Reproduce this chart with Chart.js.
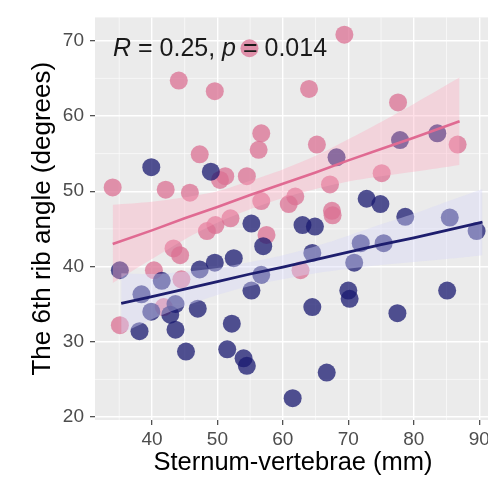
<!DOCTYPE html>
<html>
<head>
<meta charset="utf-8">
<script src="https://cdn.jsdelivr.net/npm/chart.js@4.4.1/dist/chart.umd.min.js"></script>
<style>
  html, body { margin: 0; padding: 0; background: #fff; overflow: hidden; }
  #wrap { width: 500px; height: 479px; }
</style>
</head>
<body>
<div id="wrap"><canvas id="myChart" width="500" height="479"></canvas></div>
<script>
// tick labels
const xTicks = [40, 50, 60, 70, 80, 90];
const yTicks = [20, 30, 40, 50, 60, 70];
const xMinor = [35, 45, 55, 65, 75, 85];
const yMinor = [25, 35, 45, 55, 65];

// group 1 (pink)
const pinkX = [34.0, 35.1, 44.1, 49.6, 54.9, 69.4, 64.0, 77.6, 47.3, 56.7, 56.3, 65.2, 42.1, 45.8, 50.4, 51.2, 54.5, 67.2,
               56.7, 60.9, 61.9, 67.5, 86.7, 75.1, 52.0, 57.5, 67.6, 62.7, 43.3, 44.3, 40.3, 44.5, 41.8, 48.4, 49.7];
const pinkY = [50.5, 32.2, 64.7, 63.3, 69.0, 70.8, 63.6, 61.8, 54.9, 57.7, 55.5, 56.2, 50.2, 49.8, 51.5, 52.0, 52.0, 50.9,
               48.7, 48.3, 49.3, 47.4, 56.2, 52.4, 46.4, 44.2, 46.8, 39.5, 42.4, 41.5, 39.5, 38.3, 34.6, 44.7, 45.5];

// group 2 (navy)
const blueX = [39.9, 49.0, 68.2, 77.9, 83.6, 72.8, 74.9, 78.7, 85.5, 89.6, 71.9, 75.4, 70.9, 70.0, 70.2, 85.1, 77.5,
               55.2, 63.0, 64.9, 57.0, 52.5, 64.5, 56.7, 55.2, 64.5, 52.2, 51.5, 54.0, 54.5, 66.7, 61.5,
               35.1, 41.5, 47.3, 49.6, 38.4, 39.9, 43.6, 42.8, 47.0, 38.1, 43.6, 45.2];
const blueY = [53.2, 52.6, 54.5, 56.8, 57.7, 49.0, 48.3, 46.6, 46.5, 44.7, 43.1, 43.1, 40.5, 36.8, 35.7, 36.8, 33.8,
               45.7, 45.5, 45.3, 42.7, 41.1, 41.8, 38.9, 36.8, 34.6, 32.4, 29.0, 27.8, 26.8, 25.9, 22.5,
               39.5, 38.1, 39.6, 40.5, 36.3, 34.0, 35.0, 33.6, 34.4, 31.4, 31.6, 28.7];

// fitted lines and confidence bands
const pinkFitX = [34, 40, 45, 50, 55, 60, 65, 70, 75, 80, 87];
const pinkFitY = [43.0, 44.8, 46.4, 47.9, 49.5, 51.0, 52.5, 54.1, 55.6, 57.1, 59.3];
const pinkHi   = [48.2, 48.6, 49.2, 50.0, 51.4, 52.9, 54.7, 56.9, 59.2, 61.6, 65.1];
const pinkLo   = [37.8, 41.0, 43.6, 45.8, 47.6, 49.1, 50.3, 51.3, 52.0, 52.6, 53.5];

const blueFitX = [35.3, 40, 45, 50, 55, 60, 65, 70, 75, 80, 85, 90.5];
const blueFitY = [35.1, 36.0, 37.0, 38.0, 39.0, 39.9, 40.9, 41.9, 42.9, 43.8, 44.8, 45.9];
const blueHi   = [39.1, 39.0, 39.3, 39.8, 40.6, 41.5, 42.7, 44.1, 45.6, 47.0, 48.6, 50.3];
const blueLo   = [31.1, 33.0, 34.7, 36.2, 37.4, 38.3, 39.1, 39.7, 40.2, 40.6, 41.0, 41.5];

const toPts = (xs, ys) => xs.map((x, i) => ({x: x, y: ys[i]}));

const FONT = "'Liberation Sans', Arial, Helvetica, sans-serif";

// grey panel + minor grid, like ggplot's theme_gray
const panelBg = {
    id: 'panelBg',
    beforeDraw(chart) {
        const {ctx, chartArea: a, scales} = chart;
        ctx.save();
        ctx.fillStyle = '#EBEBEB';
        ctx.fillRect(a.left, a.top, a.right - a.left, a.bottom - a.top);
        ctx.strokeStyle = 'rgba(255,255,255,0.85)';
        ctx.lineWidth = 0.7;
        ctx.beginPath();
        xMinor.forEach(v => {
            const px = scales.x.getPixelForValue(v);
            ctx.moveTo(px, a.top); ctx.lineTo(px, a.bottom);
        });
        yMinor.forEach(v => {
            const py = scales.y.getPixelForValue(v);
            ctx.moveTo(a.left, py); ctx.lineTo(a.right, py);
        });
        ctx.stroke();
        ctx.restore();
    }
};

// "R = 0.25, p = 0.014" label
const corLabel = {
    id: 'corLabel',
    afterDatasetsDraw(chart) {
        const ctx = chart.ctx;
        const parts = [['R', true], [' = 0.25, ', false], ['p', true], [' = 0.014', false]];
        let x = 113;
        const y = 56;
        ctx.save();
        ctx.fillStyle = '#1a1a1a';
        ctx.textBaseline = 'alphabetic';
        parts.forEach(([t, it]) => {
            ctx.font = (it ? 'italic ' : '') + '25px ' + FONT;
            ctx.fillText(t, x, y);
            x += ctx.measureText(t).width;
        });
        ctx.restore();
    }
};

const ctx = document.getElementById('myChart').getContext('2d');
const myChart = new Chart(ctx, {
    type: 'scatter',
    data: {
        datasets: [{
            label: 'pink',
            data: toPts(pinkX, pinkY),
            backgroundColor: 'rgba(219,112,147,0.75)',
            borderWidth: 0,
            pointRadius: 9,
            order: 4
        }, {
            label: 'navy',
            data: toPts(blueX, blueY),
            backgroundColor: 'rgba(25,25,112,0.75)',
            borderWidth: 0,
            pointRadius: 9,
            order: 3
        }, {
            label: 'pinkHi',
            data: toPts(pinkFitX, pinkHi),
            showLine: true,
            pointRadius: 0,
            borderWidth: 0,
            backgroundColor: 'rgba(255,165,190,0.35)',
            fill: '+1',
            tension: 0.3,
            order: 2
        }, {
            label: 'pinkLo',
            data: toPts(pinkFitX, pinkLo),
            showLine: true,
            pointRadius: 0,
            borderWidth: 0,
            fill: false,
            tension: 0.3,
            order: 2
        }, {
            label: 'blueHi',
            data: toPts(blueFitX, blueHi),
            showLine: true,
            pointRadius: 0,
            borderWidth: 0,
            backgroundColor: 'rgba(215,215,248,0.4)',
            fill: '+1',
            tension: 0.3,
            order: 2
        }, {
            label: 'blueLo',
            data: toPts(blueFitX, blueLo),
            showLine: true,
            pointRadius: 0,
            borderWidth: 0,
            fill: false,
            tension: 0.3,
            order: 2
        }, {
            label: 'pinkFit',
            data: toPts(pinkFitX, pinkFitY),
            showLine: true,
            pointRadius: 0,
            borderColor: '#E06A92',
            borderWidth: 2.6,
            order: 1
        }, {
            label: 'blueFit',
            data: toPts(blueFitX, blueFitY),
            showLine: true,
            pointRadius: 0,
            borderColor: '#1E1E6E',
            borderWidth: 2.8,
            order: 1
        }]
    },
    options: {
        responsive: false,
        animation: false,
        devicePixelRatio: 1,
        layout: { padding: { top: 10, left: 0, right: 0, bottom: 0 } },
        plugins: {
            legend: { display: false },
            tooltip: { enabled: false }
        },
        scales: {
            x: {
                type: 'linear',
                min: 31.3,
                max: 91.8,
                afterBuildTicks: s => { s.ticks = xTicks.map(v => ({value: v})); },
                afterFit: s => { s.height = 59; },
                grid: { color: '#FFFFFF', lineWidth: 1.4, tickLength: 5, tickColor: '#333333', tickWidth: 1.1 },
                border: { display: false },
                ticks: { color: '#4D4D4D', font: { family: FONT, size: 19 }, padding: 3, maxRotation: 0 },
                title: {
                    display: true,
                    text: 'Sternum-vertebrae (mm)',
                    color: '#000',
                    font: { family: FONT, size: 25.5, lineHeight: 1 },
                    padding: { top: 0, bottom: 3 }
                }
            },
            y: {
                type: 'linear',
                min: 19.6,
                max: 73.1,
                afterBuildTicks: s => { s.ticks = yTicks.map(v => ({value: v})); },
                afterFit: s => { s.width = 95; },
                grid: { color: '#FFFFFF', lineWidth: 1.4, tickLength: 5, tickColor: '#333333', tickWidth: 1.1 },
                border: { display: false },
                ticks: { color: '#4D4D4D', font: { family: FONT, size: 19 }, padding: 6 },
                title: {
                    display: true,
                    text: 'The 6th rib angle (degrees)',
                    color: '#000',
                    font: { family: FONT, size: 26, lineHeight: 1 },
                    padding: { top: 30, bottom: 0 }
                }
            }
        }
    },
    plugins: [panelBg, corLabel]
});
</script>
</body>
</html>
